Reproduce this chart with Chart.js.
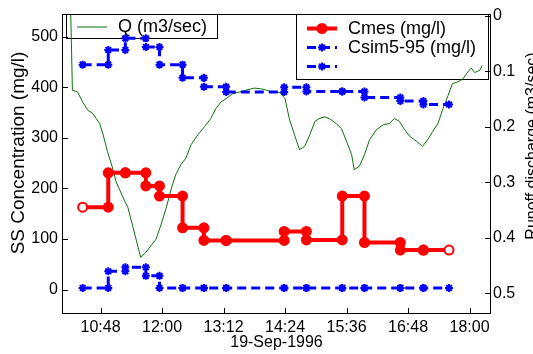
<!DOCTYPE html>
<html>
<head>
<meta charset="utf-8">
<script src="https://cdn.jsdelivr.net/npm/chart.js"></script>
<style>
  body { margin: 0; background: #fff; }
  #wrap { width: 533px; height: 354px; }
</style>
</head>
<body>
<div id="wrap"><canvas id="ss-chart" width="533" height="354"></canvas></div>
<script>
// Sample interval boundaries, 19-Sep-1996 (clock time)
var sampleTimes = ['10:27', '10:57', '11:17', '11:41', '11:57', '12:24', '12:49', '13:15',
                   '14:23', '14:49', '15:31', '15:57', '16:39', '17:06', '17:36'];

// One value per interval (mg/l)
var cmes   = [163, 231, 231, 205, 185, 122, 97, 97, 115, 98, 185, 93, 78, 78];
var csim95 = [445, 474, 497, 480, 445, 419, 401, 391, 400, 392, 392, 380, 373, 366];
var csim5  = [3, 36, 44, 27, 3, 3, 3, 3, 3, 3, 3, 3, 3, 3];

// Runoff discharge (m3/sec)
var qTimes = ['10:13', '10:15', '10:21', '10:27', '10:33', '10:39', '10:43', '10:47', '10:51', '10:56',
              '11:02', '11:06', '11:12', '11:16', '11:20', '11:26', '11:32', '11:35', '11:41', '11:47',
              '11:53', '11:59', '12:05', '12:11', '12:16', '12:22', '12:28', '12:34', '12:42', '12:50',
              '12:57', '13:03', '13:09', '13:15', '13:23', '13:31', '13:38', '13:48', '13:58', '14:09',
              '14:18', '14:24', '14:29', '14:35', '14:41', '14:47', '14:53', '14:59', '15:04', '15:10',
              '15:16', '15:24', '15:30', '15:36', '15:42', '15:45', '15:51', '15:57', '16:03', '16:11',
              '16:19', '16:26', '16:32', '16:38', '16:44', '16:50', '16:58', '17:05', '17:11', '17:17',
              '17:23', '17:29', '17:35', '17:40', '17:46', '17:52', '17:58', '18:02', '18:06', '18:12', '18:15'];
var qValues = [-0.01, 0.134, 0.137, 0.155, 0.170, 0.176, 0.185, 0.194, 0.214, 0.244,
               0.274, 0.298, 0.319, 0.333, 0.345, 0.381, 0.417, 0.435, 0.426, 0.414,
               0.402, 0.375, 0.345, 0.310, 0.286, 0.268, 0.256, 0.232, 0.214, 0.199,
               0.185, 0.167, 0.155, 0.149, 0.140, 0.137, 0.134, 0.130, 0.132, 0.137,
               0.138, 0.149, 0.185, 0.214, 0.241, 0.235, 0.214, 0.190, 0.185, 0.182,
               0.185, 0.194, 0.203, 0.226, 0.250, 0.277, 0.271, 0.250, 0.223, 0.205,
               0.196, 0.194, 0.185, 0.190, 0.205, 0.217, 0.226, 0.235, 0.223, 0.208,
               0.194, 0.167, 0.143, 0.122, 0.119, 0.114, 0.101, 0.094, 0.102, 0.098, 0.089];

// Tick labels
var xTickLabels = ['10:48', '12:00', '13:12', '14:24', '15:36', '16:48', '18:00'];
var yTicks = [0, 100, 200, 300, 400, 500];
var y2Ticks = [0, 0.1, 0.2, 0.3, 0.4, 0.5];
var y2TickLabels = ['0', '0.1', '0.2', '0.3', '0.4', '0.5'];

var fontName = '"Liberation Sans", Arial, sans-serif';

function toMin(s) {
    var p = s.split(':');
    return parseInt(p[0]) * 60 + parseInt(p[1]);
}

// each interval is drawn as start and end point, like a stairs plot
function stairs(values) {
    var pts = [];
    for (var i = 0; i < values.length; i++) {
        pts.push({ x: toMin(sampleTimes[i]), y: values[i] });
        pts.push({ x: toMin(sampleTimes[i + 1]), y: values[i] });
    }
    return pts;
}

var qData = qTimes.map(function (t, i) { return { x: toMin(t), y: qValues[i] }; });
var xTickValues = xTickLabels.map(toMin);

var nCmes = cmes.length * 2;

var cmesDs = {
    label: 'Cmes (mg/l)',
    data: stairs(cmes),
    yAxisID: 'y',
    borderColor: '#ff0000',
    borderWidth: 4,
    pointStyle: 'circle',
    pointRadius: 4.5,
    pointBorderWidth: 2,
    pointBorderColor: '#ff0000',
    pointBackgroundColor: function (c) {
        return (c.dataIndex === 0 || c.dataIndex === nCmes - 1) ? '#ffffff' : '#ff0000';
    }
};
var sim95Ds = {
    label: 'Csim5-95 (mg/l)',
    data: stairs(csim95),
    yAxisID: 'y',
    borderColor: '#0000ff',
    borderWidth: 3,
    borderDash: [9, 5],
    pointStyle: 'star',
    pointRadius: 4,
    pointBorderWidth: 2,
    pointBorderColor: '#0000ff',
    pointBackgroundColor: '#0000ff'
};
var sim5Ds = {
    label: '',
    data: stairs(csim5),
    yAxisID: 'y',
    borderColor: '#0000ff',
    borderWidth: 3,
    borderDash: [9, 5],
    pointStyle: 'star',
    pointRadius: 4,
    pointBorderWidth: 2,
    pointBorderColor: '#0000ff',
    pointBackgroundColor: '#0000ff'
};
var qDs = {
    label: 'Q (m3/sec)',
    data: qData,
    yAxisID: 'y2',
    borderColor: '#0f700f',
    borderWidth: 1,
    pointRadius: 0
};

function legendLine(ctx, ds, x1, x2, y, marker) {
    ctx.save();
    ctx.strokeStyle = ds.borderColor;
    ctx.lineWidth = ds.borderWidth;
    ctx.setLineDash(ds.borderDash || []);
    ctx.beginPath();
    ctx.moveTo(x1, y);
    ctx.lineTo(x2, y);
    ctx.stroke();
    ctx.setLineDash([]);
    if (marker) {
        ctx.fillStyle = ds.pointBorderColor;
        ctx.strokeStyle = ds.pointBorderColor;
        ctx.lineWidth = ds.pointBorderWidth;
        Chart.helpers.drawPoint(ctx, { pointStyle: ds.pointStyle, radius: ds.pointRadius, rotation: 0, borderWidth: ds.pointBorderWidth }, (x1 + x2) / 2, y);
    }
    ctx.restore();
}

var decorations = {
    id: 'decorations',
    beforeDatasetsDraw: function (chart) {
        var ctx = chart.ctx;
        ctx.save();
        ctx.font = '18px ' + fontName;
        ctx.textBaseline = 'middle';
        ctx.textAlign = 'left';
        ctx.lineWidth = 1;
        ctx.strokeStyle = '#000';
        ctx.fillStyle = '#fff';

        // Q legend
        ctx.fillRect(66.5, 14.5, 151, 24);
        ctx.strokeRect(66.5, 14.5, 151, 24);
        legendLine(ctx, qDs, 77, 107, 27, false);
        ctx.fillStyle = '#000';
        ctx.fillText(qDs.label, 118, 27.5);

        // concentration legend
        ctx.fillStyle = '#fff';
        ctx.fillRect(296.5, 14.5, 192, 65);
        ctx.strokeRect(296.5, 14.5, 192, 65);
        legendLine(ctx, cmesDs, 307, 337, 28.5, true);
        legendLine(ctx, sim95Ds, 307, 337, 47.5, true);
        legendLine(ctx, sim5Ds, 307, 337, 66.5, true);
        ctx.fillStyle = '#000';
        ctx.fillText(cmesDs.label, 348, 29);
        ctx.fillText(sim95Ds.label, 348, 48);
        ctx.restore();
    },
    afterDraw: function (chart) {
        var ctx = chart.ctx;
        var a = chart.chartArea;
        ctx.save();
        ctx.strokeStyle = '#000';
        ctx.lineWidth = 1;
        ctx.strokeRect(Math.round(a.left) - 0.5, Math.round(a.top) - 0.5,
                       Math.round(a.right - a.left) + 1, Math.round(a.bottom - a.top) + 1);

        // inward tick marks
        ctx.beginPath();
        chart.scales.y.ticks.forEach(function (t) {
            var py = Math.round(chart.scales.y.getPixelForValue(t.value)) + 0.5;
            ctx.moveTo(a.left, py); ctx.lineTo(a.left + 5, py);
        });
        chart.scales.y2.ticks.forEach(function (t) {
            var py = Math.round(chart.scales.y2.getPixelForValue(t.value)) + 0.5;
            ctx.moveTo(a.right, py); ctx.lineTo(a.right - 5, py);
        });
        chart.scales.x.ticks.forEach(function (t) {
            var px = Math.round(chart.scales.x.getPixelForValue(t.value)) + 0.5;
            ctx.moveTo(px, a.bottom); ctx.lineTo(px, a.bottom - 5);
        });
        ctx.stroke();

        // axis titles
        ctx.fillStyle = '#000';
        ctx.font = '16px ' + fontName;
        ctx.textAlign = 'center';
        ctx.textBaseline = 'middle';
        ctx.fillText('19-Sep-1996', (a.left + a.right) / 2, 343);

        ctx.save();
        ctx.font = '19px ' + fontName;
        ctx.translate(19, 153);
        ctx.rotate(-Math.PI / 2);
        ctx.fillText('SS Concentration (mg/l)', 0, 0);
        ctx.restore();

        ctx.save();
        ctx.translate(533, 146);
        ctx.rotate(-Math.PI / 2);
        ctx.fillText('Runoff discharge (m3/sec)', 0, 0);
        ctx.restore();
        ctx.restore();
    }
};

var tickFont = { family: fontName, size: 16 };

new Chart(document.getElementById('ss-chart').getContext('2d'), {
    type: 'line',
    data: { datasets: [cmesDs, sim95Ds, sim5Ds, qDs] },
    options: {
        responsive: false,
        animation: false,
        layout: { padding: { top: 12, left: 0, right: 0, bottom: 0 } },
        plugins: { legend: { display: false }, tooltip: { enabled: false } },
        scales: {
            x: {
                type: 'linear',
                position: 'bottom',
                min: 604,
                max: 1104,
                grid: { display: false, drawTicks: false, tickLength: 0 },
                border: { display: false },
                ticks: {
                    font: tickFont, color: '#000', padding: 5, maxRotation: 0, autoSkip: false,
                    callback: function (v, i) { return xTickLabels[i]; }
                },
                afterBuildTicks: function (s) { s.ticks = xTickValues.map(function (v) { return { value: v }; }); },
                afterFit: function (s) { s.height = 41; }
            },
            y: {
                position: 'left',
                min: -46.5,
                max: 544,
                grid: { display: false, drawTicks: false, tickLength: 0 },
                border: { display: false },
                ticks: { font: tickFont, color: '#000', padding: 5 },
                afterBuildTicks: function (s) { s.ticks = yTicks.map(function (v) { return { value: v }; }); },
                afterFit: function (s) { s.width = 63; }
            },
            y2: {
                position: 'right',
                reverse: true,
                min: -0.0023,
                max: 0.5352,
                grid: { display: false, drawTicks: false, tickLength: 0 },
                border: { display: false },
                ticks: {
                    font: tickFont, color: '#000', padding: 3,
                    callback: function (v, i) { return y2TickLabels[i]; }
                },
                afterBuildTicks: function (s) { s.ticks = y2Ticks.map(function (v) { return { value: v }; }); },
                afterFit: function (s) { s.width = 43; }
            }
        }
    },
    plugins: [decorations]
});
</script>
</body>
</html>
